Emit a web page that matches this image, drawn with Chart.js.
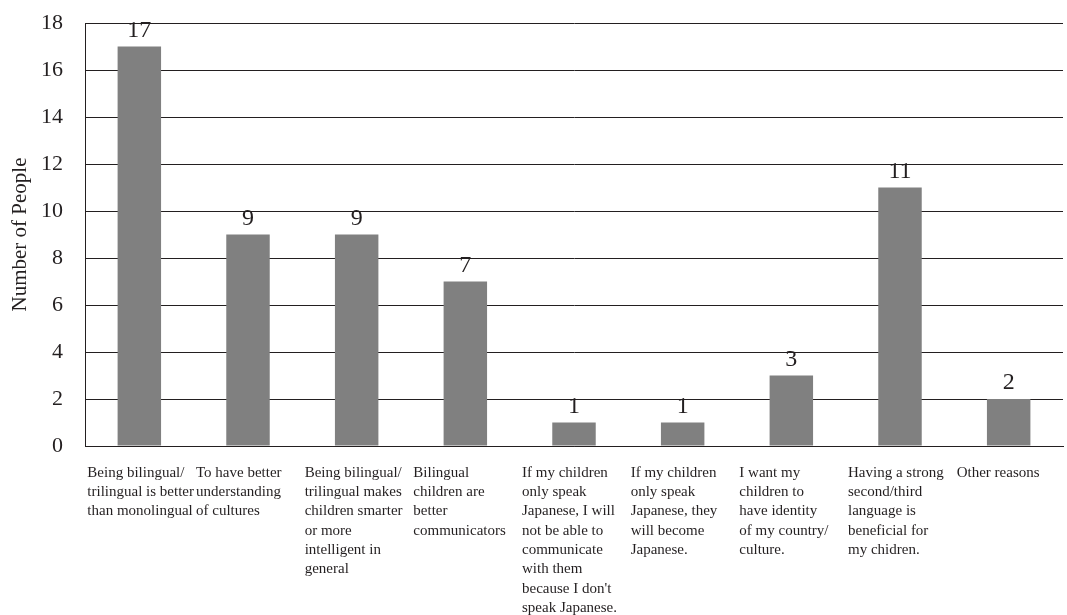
<!DOCTYPE html>
<html>
<head>
<meta charset="utf-8">
<script src="https://cdn.jsdelivr.net/npm/chart.js@4.4.1/dist/chart.umd.min.js"></script>
<style>
  html, body { margin: 0; padding: 0; background: #fff; }
  #wrap { width: 1067px; height: 615px; }
</style>
</head>
<body>
<div id="wrap"><canvas id="grafico" width="1067" height="615"></canvas></div>
<script>
// Datos del gráfico
const categorias = [
    ['Being bilingual/', 'trilingual is better', 'than monolingual'],
    ['To have better', 'understanding', 'of cultures'],
    ['Being bilingual/', 'trilingual makes', 'children smarter', 'or more', 'intelligent in', 'general'],
    ['Bilingual', 'children are', 'better', 'communicators'],
    ['If my children', 'only speak', 'Japanese, I will', 'not be able to', 'communicate', 'with them', "because I don't", 'speak Japanese.'],
    ['If my children', 'only speak', 'Japanese, they', 'will become', 'Japanese.'],
    ['I want my', 'children to', 'have identity', 'of my country/', 'culture.'],
    ['Having a strong', 'second/third', 'language is', 'beneficial for', 'my chidren.'],
    ['Other reasons']
];
const personas = [17, 9, 9, 7, 1, 1, 3, 11, 2];
const ejeY = { min: 0, max: 18, paso: 2 };

const colorTexto = '#231f20';
const fuente = "'Liberation Serif', 'Times New Roman', serif";

// Etiquetas de valor encima de cada barra
const etiquetasValor = {
    id: 'etiquetasValor',
    afterDatasetsDraw(chart) {
        const ctx = chart.ctx;
        const meta = chart.getDatasetMeta(0);
        ctx.save();
        ctx.font = '24px ' + fuente;
        ctx.fillStyle = colorTexto;
        ctx.textAlign = 'center';
        ctx.textBaseline = 'alphabetic';
        meta.data.forEach((barra, i) => {
            ctx.fillText(String(personas[i]), barra.x, barra.y - 10);
        });
        ctx.restore();
    }
};

const ctx = document.getElementById('grafico').getContext('2d');
new Chart(ctx, {
    type: 'bar',
    data: {
        labels: categorias,
        datasets: [{
            data: personas,
            backgroundColor: '#808080',
            borderWidth: 0,
            barPercentage: 0.4,
            categoryPercentage: 1
        }]
    },
    options: {
        responsive: false,
        animation: false,
        layout: { padding: { top: 23, right: 4, left: 8, bottom: 0 } },
        plugins: {
            legend: { display: false },
            tooltip: { enabled: false }
        },
        scales: {
            x: {
                grid: { display: false },
                border: { display: true, color: colorTexto, width: 1 },
                ticks: {
                    color: colorTexto,
                    font: { family: fuente, size: 15, lineHeight: 1.29 },
                    align: 'start',
                    labelOffset: -52,
                    maxRotation: 0,
                    autoSkip: false,
                    padding: 9
                },
                afterFit(escala) {
                    escala.height = 169;
                    escala.paddingLeft = 0;
                    escala.paddingRight = 0;
                }
            },
            y: {
                min: ejeY.min,
                max: ejeY.max,
                ticks: {
                    stepSize: ejeY.paso,
                    color: colorTexto,
                    font: { family: fuente, size: 22 },
                    padding: 22
                },
                grid: { color: colorTexto, lineWidth: 1, drawTicks: false },
                border: { display: true, color: colorTexto, width: 1 },
                title: {
                    display: true,
                    text: 'Number of People',
                    color: colorTexto,
                    font: { family: fuente, size: 21 },
                    padding: 0
                },
                afterFit(escala) {
                    escala.width = 77;
                    escala.paddingTop = 0;
                    escala.paddingBottom = 0;
                }
            }
        }
    },
    plugins: [etiquetasValor]
});
</script>
</body>
</html>
